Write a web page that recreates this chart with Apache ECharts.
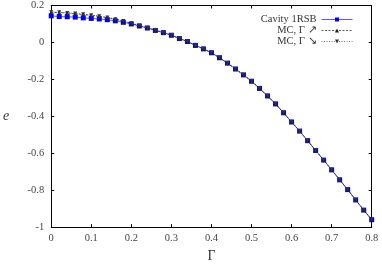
<!DOCTYPE html>
<html><head><meta charset="utf-8">
<script src="https://cdn.jsdelivr.net/npm/echarts@6/dist/echarts.min.js"></script>
<style>html,body{margin:0;padding:0;background:#fff}#c{width:382px;height:268px}</style>
</head><body><div id="c"></div>
<script>
const gammaValues = [0,0.02,0.04,0.06,0.08,0.10,0.12,0.14,0.16,0.18,0.20,0.22,0.24,0.26,0.28,0.30,0.32,0.34,0.36,0.38,0.40,0.42,0.44,0.46,0.48,0.50,0.52,0.54,0.56,0.58,0.60,0.62,0.64,0.66,0.68,0.70,0.72,0.74,0.76,0.78,0.80];
const cavity1RSB = [0.144,0.140,0.139,0.137,0.133,0.130,0.127,0.123,0.117,0.109,0.100,0.089,0.078,0.065,0.053,0.039,0.021,0.005,-0.016,-0.035,-0.056,-0.083,-0.112,-0.144,-0.176,-0.210,-0.249,-0.290,-0.333,-0.381,-0.431,-0.480,-0.532,-0.585,-0.637,-0.690,-0.744,-0.797,-0.853,-0.908,-0.960];
const mcUp = [0.163,0.162,0.159,0.156,0.151,0.147,0.141,0.134,0.126,0.115,0.103,0.091,0.079,0.066,0.053,0.039,0.021,0.005,-0.016,-0.035,-0.056,-0.083,-0.112,-0.144,-0.176,-0.210,-0.249,-0.290,-0.333,-0.381,-0.431,-0.480,-0.532,-0.585,-0.637,-0.690,-0.744,-0.797,-0.853,-0.908,-0.960];
const mcDown = [0.164,0.163,0.160,0.157,0.152,0.147,0.142,0.135,0.126,0.116,0.104,0.092,0.080,0.067,0.054,0.040,0.022,0.006,-0.015,-0.034,-0.055,-0.082,-0.111,-0.143,-0.175,-0.209,-0.248,-0.289,-0.332,-0.380,-0.430,-0.479,-0.531,-0.584,-0.636,-0.689,-0.743,-0.796,-0.852,-0.907,-0.959];
const xTicks = [0,0.1,0.2,0.3,0.4,0.5,0.6,0.7,0.8];
const yTicks = [-1,-0.8,-0.6,-0.4,-0.2,0,0.2];
const seriesNames = ['Cavity 1RSB','MC, \u0393 \u2197','MC, \u0393 \u2198'];

const font = 'Liberation Serif';
const pair = arr => gammaValues.map((g,i)=>[g,arr[i]]);
const fmt = v => { const r = Math.round(v*10)/10; return String(r); };
const chart = echarts.init(document.getElementById('c'), null, {renderer:'canvas'});
const baseX = {type:'value', min:xTicks[0], max:xTicks[xTicks.length-1], interval:0.1,
  splitLine:{show:false}, axisLine:{show:true,onZero:false,lineStyle:{color:'#000',width:1}},
  axisTick:{show:true,inside:true,length:3,lineStyle:{color:'#000'}}};
const baseY = {type:'value', min:yTicks[0], max:yTicks[yTicks.length-1], interval:0.2,
  splitLine:{show:false}, axisLine:{show:true,onZero:false,lineStyle:{color:'#000',width:1}},
  axisTick:{show:true,inside:true,length:3,lineStyle:{color:'#000'}}};
chart.setOption({
  animation:false,
  grid:{left:50.7, right:10.3, top:4.5, bottom:33, containLabel:false},
  legend:{
    orient:'vertical', right:24, top:9, align:'right', itemWidth:31, itemHeight:5, itemGap:0,
    itemStyle:{borderWidth:0},
    textStyle:{fontFamily:font, fontSize:10.5, lineHeight:10.7, color:'#333'},
    data:[
      {name:seriesNames[0], lineStyle:{color:'#5a5aff', width:1}, itemStyle:{color:'#0000ee'}},
      {name:seriesNames[1], lineStyle:{color:'#333', width:0.8, type:[2,1.5]}},
      {name:seriesNames[2], lineStyle:{color:'#555', width:0.8, type:[1,1.5]}}
    ]
  },
  xAxis:[
    Object.assign({}, baseX, {position:'bottom',
      name:'\u0393', nameLocation:'middle', nameGap:18,
      nameTextStyle:{fontFamily:font, fontSize:14, color:'#333'},
      axisLabel:{show:true, margin:6, fontFamily:font, fontSize:10.5, color:'#444', formatter:fmt}}),
    Object.assign({}, baseX, {position:'top', axisLabel:{show:false}})
  ],
  yAxis:[
    Object.assign({}, baseY, {position:'left',
      name:'e', nameLocation:'middle', nameRotate:0, nameGap:42,
      nameTextStyle:{fontFamily:font, fontStyle:'italic', fontSize:14, color:'#333'},
      axisLabel:{show:true, margin:7, fontFamily:font, fontSize:10.5, color:'#444', formatter:fmt}}),
    Object.assign({}, baseY, {position:'right', axisLabel:{show:false}})
  ],
  series:[
    {name:seriesNames[0], type:'line', data:pair(cavity1RSB), symbol:'rect', symbolSize:5,
      lineStyle:{color:'#5a5aff', width:1}, itemStyle:{color:'#0000ee'}, z:2},
    {name:seriesNames[1], type:'line', data:pair(mcUp), symbol:'triangle', symbolSize:4,
      lineStyle:{color:'#222', width:0.8, type:[2,1.5]}, itemStyle:{color:'#222'}, z:3},
    {name:seriesNames[2], type:'line', data:pair(mcDown), symbol:'triangle', symbolRotate:180, symbolSize:4,
      lineStyle:{color:'#444', width:0.8, type:[1,1.5]}, itemStyle:{color:'#333'}, z:3}
  ]
});
</script></body></html>
